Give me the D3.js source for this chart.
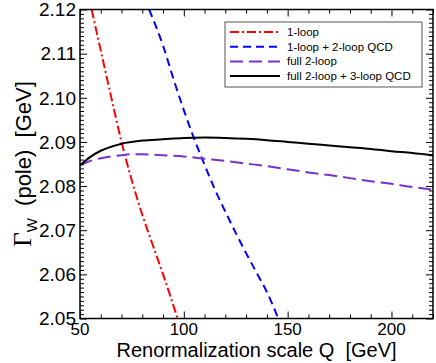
<!DOCTYPE html>
<html><head><meta charset="utf-8">
<script src="https://cdn.jsdelivr.net/npm/d3@7"></script>
<style>body{margin:0;background:#fff}svg{display:block}</style>
</head><body>
<svg id="c" width="436" height="363"></svg>
<script>
// ---- data ----
const oneLoopQ = [55.6, 60, 65, 70, 75, 80, 85, 90, 97];
const oneLoopW = [2.1200, 2.1107, 2.1002, 2.0900, 2.0812, 2.0735, 2.0667, 2.0600, 2.0500];

const qcd2Q = [83.3, 90, 95, 100, 105, 110, 115, 120, 125, 130, 135, 140, 145.5];
const qcd2W = [2.1200, 2.1118, 2.1043, 2.0972, 2.0907, 2.0848, 2.0792, 2.0742, 2.0694, 2.0648, 2.0604, 2.0560, 2.0500];

const full2Q = [50, 55, 60, 65, 70, 75, 80, 90, 100, 110, 120, 130, 140, 150, 160, 170, 180, 190, 200, 210, 220];
const full2W = [2.0847, 2.0857, 2.0863, 2.0867, 2.0870, 2.0872, 2.0872, 2.0870, 2.0867, 2.0862, 2.0857, 2.0851, 2.0845, 2.0838, 2.0831, 2.0825, 2.0818, 2.0811, 2.0805, 2.0798, 2.0792];

const full3Q = [50, 55, 60, 65, 70, 80, 90, 100, 110, 120, 130, 140, 150, 160, 170, 180, 190, 200, 210, 220];
const full3W = [2.0847, 2.0866, 2.0880, 2.0889, 2.0896, 2.0903, 2.0906, 2.0909, 2.0910, 2.0909, 2.0907, 2.0904, 2.0900, 2.0896, 2.0892, 2.0888, 2.0884, 2.0879, 2.0875, 2.0870];

const xTicks = [50, 100, 150, 200];
const yTicks = [2.05, 2.06, 2.07, 2.08, 2.09, 2.10, 2.11, 2.12];
const seriesNames = ["1-loop", "1-loop + 2-loop QCD", "full 2-loop", "full 2-loop + 3-loop QCD"];

// ---- chart ----
const svg = d3.select("#c");
const L = 80, R = 433, T = 9.5, B = 318.5;
const x = d3.scaleLinear().domain([50, 220]).range([L, R]);
const y = d3.scaleLinear().domain([2.05, 2.12]).range([B, T]);

svg.append("defs").append("clipPath").attr("id", "clip")
  .append("rect").attr("x", L).attr("y", T).attr("width", R - L).attr("height", B - T);

const series = [
  {q: oneLoopQ, w: oneLoopW, color: "#ff0000", dash: "9,3,2,3"},
  {q: qcd2Q, w: qcd2W, color: "#0000ff", dash: "8,5"},
  {q: full2Q, w: full2W, color: "#7a2fd0", dash: "13,6"},
  {q: full3Q, w: full3W, color: "#000000", dash: null}
];

const line = d3.line().x(d => x(d[0])).y(d => y(d[1])).curve(d3.curveMonotoneX);
const g = svg.append("g").attr("clip-path", "url(#clip)");
series.forEach(s => {
  const pts = s.q.map((q, i) => [q, s.w[i]]);
  g.append("path").attr("d", line(pts)).attr("fill", "none")
    .attr("stroke", s.color).attr("stroke-width", 2)
    .attr("stroke-dasharray", s.dash);
});

// axes with inside ticks on all sides
const xMinor = d3.range(50, 221, 10).filter(v => v % 50 !== 0);
const yMinor = d3.range(0, 71).map(i => 2.05 + i * 0.001).filter((v, i) => i % 10 !== 0);
const fmt = d3.format(".2f");

function axisGroup(axisFn, transform) {
  return svg.append("g").attr("transform", transform).call(axisFn)
    .call(a => a.select(".domain").remove());
}
axisGroup(d3.axisTop(x).tickValues(xTicks).tickSize(7).tickFormat(""), `translate(0,${B})`);
axisGroup(d3.axisTop(x).tickValues(xMinor).tickSize(4).tickFormat(""), `translate(0,${B})`);
axisGroup(d3.axisBottom(x).tickValues(xTicks).tickSize(7).tickFormat(""), `translate(0,${T})`);
axisGroup(d3.axisBottom(x).tickValues(xMinor).tickSize(4).tickFormat(""), `translate(0,${T})`);
axisGroup(d3.axisRight(y).tickValues(yTicks).tickSize(7).tickFormat(""), `translate(${L},0)`);
axisGroup(d3.axisRight(y).tickValues(yMinor).tickSize(4).tickFormat(""), `translate(${L},0)`);
axisGroup(d3.axisLeft(y).tickValues(yTicks).tickSize(7).tickFormat(""), `translate(${R},0)`);
axisGroup(d3.axisLeft(y).tickValues(yMinor).tickSize(4).tickFormat(""), `translate(${R},0)`);
svg.selectAll(".tick line").attr("stroke", "#000").attr("stroke-width", 1);

svg.append("rect").attr("x", L).attr("y", T).attr("width", R - L).attr("height", B - T)
  .attr("fill", "none").attr("stroke", "#000").attr("stroke-width", 1.5);

// tick labels
const font = "'Liberation Sans', Arial, sans-serif";
svg.append("g").selectAll("text").data(xTicks).join("text")
  .attr("x", d => x(d)).attr("y", 335).attr("text-anchor", "middle")
  .attr("font-family", font).attr("font-size", 17).text(d => d);
svg.append("g").selectAll("text").data(yTicks).join("text")
  .attr("x", 76).attr("y", d => y(d)).attr("dy", "0.36em").attr("text-anchor", "end")
  .attr("font-family", font).attr("font-size", 19).text(d => fmt(d));

// axis titles
svg.append("text").attr("x", (L + R) / 2).attr("y", 357).attr("text-anchor", "middle")
  .attr("font-family", font).attr("font-size", 20).attr("xml:space", "preserve")
  .text("Renormalization scale Q  [GeV]");

const yt = svg.append("text").attr("transform", `translate(31,${(T + B) / 2}) rotate(-90)`)
  .attr("text-anchor", "middle").attr("font-family", font).attr("font-size", 22)
  .attr("xml:space", "preserve");
yt.append("tspan").attr("font-family", "'Liberation Serif', 'Times New Roman', serif").attr("font-size", 25).text("Γ");
yt.append("tspan").attr("font-size", 15).attr("dy", 6).text("W");
yt.append("tspan").attr("dy", -6).text("  (pole)  [GeV]");

// legend
const lg = svg.append("g");
lg.append("rect").attr("x", 225).attr("y", 22).attr("width", 197).attr("height", 65)
  .attr("fill", "#fff").attr("stroke", "#555").attr("stroke-width", 1);
seriesNames.forEach((name, i) => {
  const yy = 32 + i * 14.7;
  lg.append("line").attr("x1", 230).attr("x2", 280).attr("y1", yy).attr("y2", yy)
    .attr("stroke", series[i].color).attr("stroke-width", 2)
    .attr("stroke-dasharray", series[i].dash);
  lg.append("text").attr("x", 287).attr("y", yy).attr("dy", "0.35em")
    .attr("font-family", font).attr("font-size", 11.5).text(name);
});
</script>
</body></html>
